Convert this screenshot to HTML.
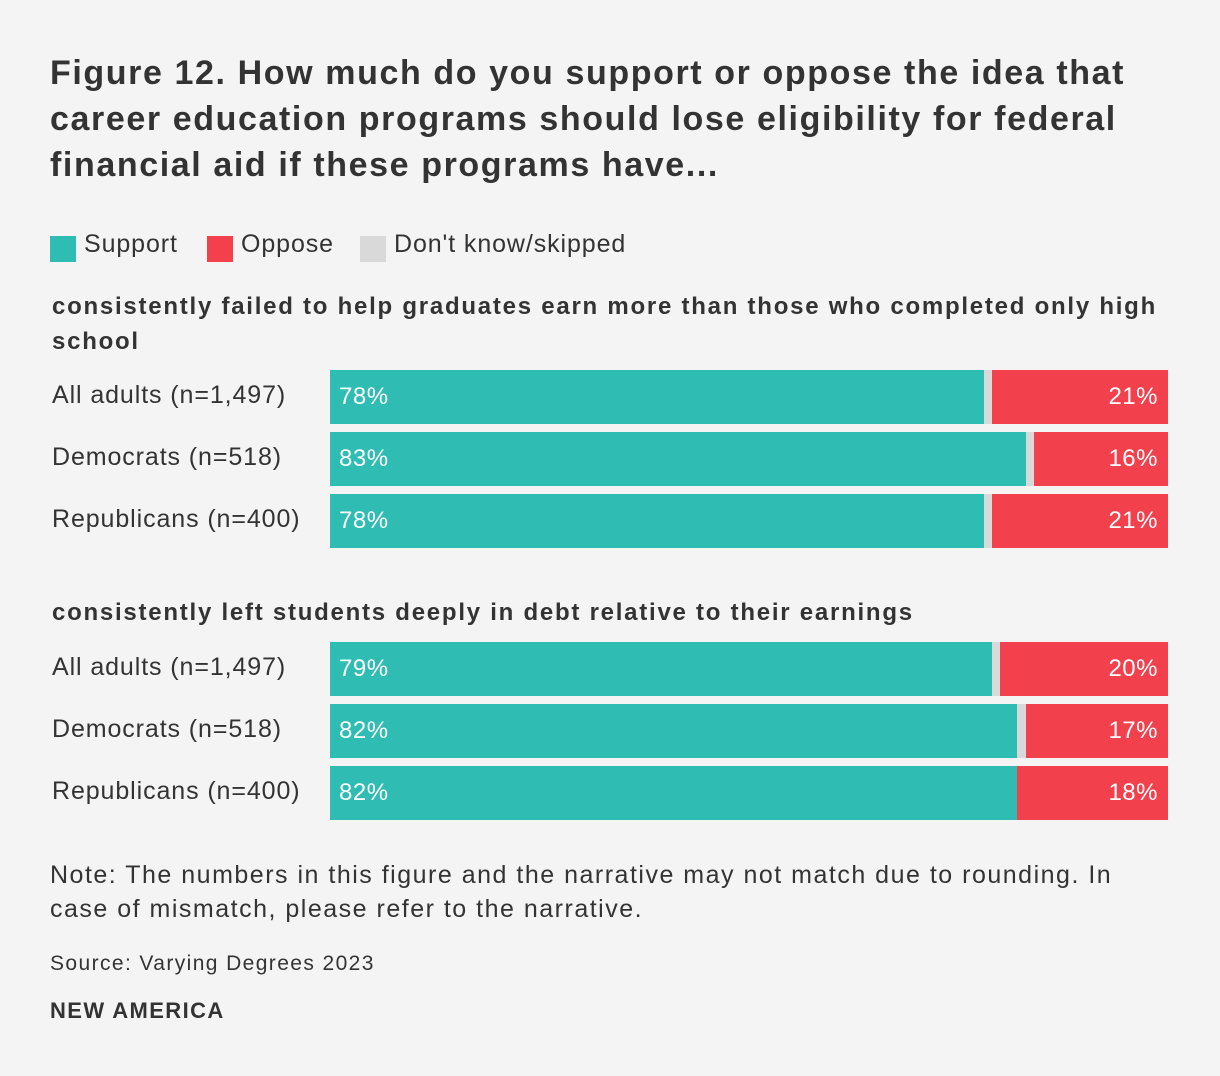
<!DOCTYPE html>
<html><head><meta charset="utf-8">
<style>
body{margin:0;background:#f4f4f4;font-family:"Liberation Sans",sans-serif;color:#333;}
#wrap{position:relative;width:1220px;height:1076px;overflow:hidden;}
.t{position:absolute;white-space:nowrap;}
#title{left:50px;top:50px;font-size:34px;font-weight:bold;line-height:46px;color:#333;letter-spacing:1.6px}
.leg{top:230px;font-size:25px;letter-spacing:0.9px}
.sw{position:absolute;top:236px;width:26px;height:26px;}
.sub{left:52px;font-size:24px;font-weight:bold;line-height:35px;letter-spacing:1.75px}
.lab{left:52px;font-size:25px;letter-spacing:0.9px}
.val{font-size:24px;color:#fff;letter-spacing:0.5px}
</style></head><body>
<div id="wrap">
<div id="title" class="t">Figure 12. How much do you support or oppose the idea that<br>career education programs should lose eligibility for federal<br>financial aid if these programs have...</div>
<div class="sw" style="left:50px;background:#2ebcb3"></div>
<div class="t leg" style="left:84px">Support</div>
<div class="sw" style="left:207px;background:#f2404c"></div>
<div class="t leg" style="left:241px">Oppose</div>
<div class="sw" style="left:360px;background:#d9d9d9"></div>
<div class="t leg" style="left:394px">Don't know/skipped</div>
<div class="t sub" style="top:289px">consistently failed to help graduates earn more than those who completed only high<br>school</div>
<div class="t sub" style="top:595px">consistently left students deeply in debt relative to their earnings</div>
<div id="bars"></div>
<div class="t" style="left:50px;top:858px;font-size:25px;line-height:34px;letter-spacing:1.5px">Note: The numbers in this figure and the narrative may not match due to rounding. In<br>case of mismatch, please refer to the narrative.</div>
<div class="t" style="left:50px;top:952px;font-size:21px;letter-spacing:1.4px">Source: Varying Degrees 2023</div>
<div class="t" style="left:50px;top:998px;font-size:22px;font-weight:bold;letter-spacing:1.4px">NEW AMERICA</div>
</div>
<script>
const categories=["All adults (n=1,497)","Democrats (n=518)","Republicans (n=400)","All adults (n=1,497)","Democrats (n=518)","Republicans (n=400)"];
const support=[78,83,78,79,82,82];
const oppose=[21,16,21,20,17,18];
const rowTops=[370,432,494,642,704,766];
const X0=330,W=838,H=54;
const x=v=>v/100*W;
const wrap=document.getElementById('bars');
function box(l,t,w,h,c,name){const d=document.createElement('div');d.style.cssText=`position:absolute;left:${l}px;top:${t}px;width:${w}px;height:${h}px;background:${c}`;


wrap.appendChild(d);return d;}
categories.forEach((c,i)=>{
 const t=rowTops[i];
 const lab=document.createElement('div');lab.className='t lab';lab.style.top=(t+11)+'px';lab.textContent=c;
 
 
 wrap.appendChild(lab);
 const ws=x(support[i]),wo=x(oppose[i]);
 box(X0,t,W,H,'#d9d9d9','bar-dontknow');
 box(X0,t,ws,H,'#2ebcb3','bar-support');
 box(X0+W-wo,t,wo,H,'#f2404c','bar-oppose');
 const s=document.createElement('div');s.className='t val';s.style.left=(X0+9)+'px';s.style.top=(t+13)+'px';s.textContent=support[i]+'%';
 
 
 wrap.appendChild(s);
 const o=document.createElement('div');o.className='t val';o.style.right=(1220-X0-W+10)+'px';o.style.top=(t+13)+'px';o.textContent=oppose[i]+'%';
 
 
 wrap.appendChild(o);
});
</script>
</body></html>
